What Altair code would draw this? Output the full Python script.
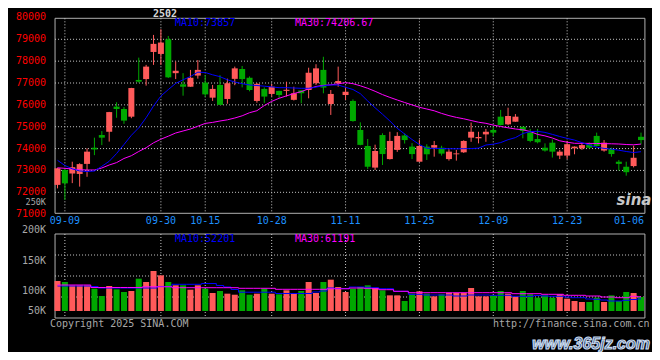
import altair as alt
import pandas as pd

# ---------------- data ----------------
opens = [72340, 73020, 72860, 72840, 73300, 74040, 74620, 74770, 75920, 75810,
         75460, 77140, 77180, 78420, 78330, 79000, 77450, 76940, 76830, 77340,
         77020, 76330, 76910, 76270, 77190, 77640, 77240, 76180, 76730, 76500,
         76640, 76640, 76230, 76660, 76680, 76990, 77600, 76040, 76990, 76450,
         76180, 74850, 74120, 73130, 74620, 73520, 73940, 74600, 74090, 73400,
         74090, 74040, 74040, 73520, 73740, 73830, 74500, 74470, 74650, 74850,
         75460, 75110, 75230, 75000, 74740, 74440, 74040, 74270, 73680, 73680,
         74010, 74010, 74200, 74580, 73910, 73980, 73400, 73170, 73200, 74540]
highs = [73120, 73060, 73400, 73330, 74010, 74500, 74800, 75680, 76120, 75900,
         76780, 78160, 77830, 79200, 79460, 79150, 77980, 77450, 77600, 78050,
         77360, 76910, 77360, 77200, 77750, 77780, 77300, 77000, 76800, 76950,
         76650, 77060, 76830, 76680, 77700, 77860, 78200, 76680, 77750, 76830,
         76250, 75200, 74440, 74180, 74700, 74770, 74750, 74700, 74250, 74410,
         74200, 74350, 74130, 73970, 73940, 74380, 75190, 74770, 74900, 75000,
         75770, 75870, 75580, 75000, 74900, 74900, 74240, 74420, 73940, 74350,
         74100, 74250, 74280, 74730, 74390, 74040, 73480, 73400, 74130, 74730]
lows = [72180, 71650, 72420, 72260, 72710, 73700, 74160, 74320, 75410, 75130,
        75390, 77020, 76880, 77830, 77830, 77230, 77180, 76420, 76830, 77200,
        76370, 76180, 75990, 76050, 76900, 76800, 76620, 76100, 76090, 76380,
        76300, 76380, 76200, 76070, 76300, 76910, 76530, 75540, 76830, 76220,
        75230, 74150, 73070, 73020, 73250, 73500, 73850, 74230, 73520, 73400,
        73480, 73630, 73680, 73450, 73450, 73800, 74310, 74240, 74310, 74560,
        75050, 75070, 75230, 74470, 74290, 74240, 73860, 73590, 73520, 73520,
        73740, 73940, 74000, 74090, 73860, 73630, 72990, 72760, 73140, 74190]
closes = [73100, 72410, 73150, 73290, 73860, 73960, 74500, 75670, 75810, 75280,
          76770, 77060, 77750, 78790, 78850, 77260, 77560, 76830, 77240, 77600,
          76480, 76730, 76000, 76990, 77670, 77180, 76680, 76960, 76380, 76830,
          76450, 76690, 76530, 76530, 77470, 77670, 76790, 76500, 77090, 76600,
          75260, 74170, 73170, 73890, 73750, 74350, 74580, 74390, 73750, 74120,
          73740, 74160, 73770, 73860, 73780, 74350, 74770, 74530, 74770, 74730,
          75080, 75490, 75460, 74800, 74350, 74290, 73910, 73860, 73860, 74200,
          74090, 74160, 74040, 74120, 74270, 73750, 73300, 72920, 73580, 74390]
ma10 = [73464, 73226, 73075, 72975, 72952, 72975, 73190, 73418, 73775, 74187,
        74608, 74951, 75413, 75948, 76406, 76699, 76982, 77147, 77298, 77495,
        77481, 77376, 77289, 77147, 77046, 76969, 76909, 76886, 76854, 76822,
        76786, 76786, 76772, 76758, 76758, 76813, 76873, 76909, 76909, 76804,
        76703, 76511, 76177, 75866, 75573, 75262, 74928, 74667, 74416, 74183,
        74013, 74010, 74000, 73995, 73990, 73995, 74000, 74020, 74164, 74201,
        74274, 74407, 74503, 74690, 74777, 74791, 74741, 74649, 74553, 74466,
        74388, 74274, 74160, 74064, 74009, 73977, 73926, 73867, 73821, 73857]
ma30 = [73121, 73098, 73066, 73034, 73020, 73020, 73112, 73249, 73359, 73547,
        73675, 73867, 74041, 74265, 74430, 74567, 74713, 74805, 74896, 75024,
        75152, 75198, 75262, 75317, 75399, 75500, 75642, 75733, 75971, 76159,
        76301, 76411, 76516, 76607, 76731, 76841, 76891, 76918, 76960, 77019,
        76969, 76873, 76758, 76621, 76470, 76342, 76223, 76109, 75999, 75889,
        75811, 75729, 75610, 75509, 75427, 75363, 75285, 75207, 75157, 75075,
        75011, 74951, 74896, 74860, 74782, 74649, 74581, 74484, 74356, 74292,
        74242, 74242, 74237, 74233, 74228, 74219, 74210, 74187, 74173, 74206.67]
volumes = [129000, 124700, 110000, 110000, 110000, 96000, 64500, 107500, 93000, 81700,
           86000, 139000, 124700, 172000, 153400, 124700, 110500, 110500, 91700, 110500,
           96000, 77400, 86000, 74500, 70000, 89000, 70000, 74500, 96000, 74500,
           71700, 89000, 74500, 86000, 124700, 77400, 124700, 134700, 103000, 81700,
           96000, 103000, 110500, 100000, 89000, 67300, 67300, 43000, 74500, 84600,
           74500, 63000, 71700, 77400, 77400, 77400, 99000, 63000, 63000, 67300,
           86000, 74500, 63000, 86000, 71700, 57300, 67300, 57300, 71700, 53000,
           43000, 38700, 38700, 57300, 38700, 67300, 43000, 81700, 77400, 60000]
vma10 = [107500, 107500, 107500, 107500, 107500, 105400, 98900, 98900, 98900, 98900,
         98900, 98900, 98900, 98900, 105400, 105400, 114800, 114800, 114800, 114800,
         118300, 118300, 109700, 103200, 92500, 80800, 80800, 80800, 80800, 80800,
         75300, 75300, 75300, 75300, 75300, 81700, 86000, 98900, 96800, 96800,
         103200, 103200, 101900, 100200, 95900, 95900, 84700, 84700, 71800, 71800,
         68800, 68800, 68800, 68800, 64500, 64500, 68800, 68800, 68800, 67500,
         67500, 67500, 63200, 63200, 63200, 66600, 64500, 63200, 63200, 60200,
         57200, 57200, 51600, 50300, 47300, 43000, 43000, 46000, 49500, 52201]
vma30 = [111800, 111800, 111800, 111800, 111800, 101100, 101100, 101100, 101100, 101100,
         101100, 101100, 104100, 104100, 104100, 104100, 100200, 100200, 100200, 100200,
         100200, 100200, 100200, 100200, 100200, 97600, 97600, 97600, 97600, 97600,
         93300, 93300, 93300, 93300, 93300, 93300, 93300, 95500, 95500, 95500,
         98900, 98900, 97600, 95900, 91600, 91600, 84700, 84700, 78700, 78700,
         78700, 78700, 78700, 78700, 78700, 78700, 78700, 78700, 78700, 78700,
         78700, 78700, 74400, 74400, 74400, 74400, 71800, 71800, 71800, 67500,
         67500, 67500, 64500, 64500, 60200, 60200, 57200, 57200, 63200, 61191]

tick_idx = [1, 14, 20, 29, 39, 49, 59, 69, 79]
tick_lab = ["09-09", "09-30", "10-15", "10-28", "11-11", "11-25", "12-09", "12-23", "01-06"]
price_ticks = [80000, 79000, 78000, 77000, 76000, 75000, 74000, 73000, 72000, 71000]
vol_labels = ["200K", "150K", "100K", "50K"]
extra_vol_label = ["250K"]
title_text = ["2502"]
ma_main = ["MA10:73857", "MA30:74206.67"]
ma_vol = ["MA10:52201", "MA30:61191"]

# ---------------- styling / layout ----------------
RED, GREEN = "#ff5a5a", "#00a800"
BLUE, MAG = "#0000ff", "#ff00ff"
GRID = "#c8c8c8"
FRAME = "#b0b0b0"
GRAY_TXT = "#a8a8a8"
FONT = "DejaVu Sans Mono"

X_LO, X_HI = -0.333, 79.53           # plot frame in index units
P_LO, P_HI = 71040, 79960            # price frame
V_LO, V_HI = -30100, 331100          # volume frame

XS = alt.Scale(domain=[0, 79], range=[44.5, 638.0], nice=False, zero=False)
PS = alt.Scale(domain=[P_LO, P_HI], range=[205.3, 10.3], nice=False, zero=False)
VS = alt.Scale(domain=[V_LO, V_HI], range=[310, 226], nice=False, zero=False)
CS = alt.Scale(domain=["up", "down"], range=[RED, GREEN])

df = pd.DataFrame({
    "i": list(range(len(opens))), "o": opens, "h": highs, "l": lows, "c": closes,
    "v": volumes, "ma10": ma10, "ma30": ma30, "vma10": vma10, "vma30": vma30,
})
df["dir"] = ["up" if c >= o else "down" for o, c in zip(opens, closes)]

ticks = pd.DataFrame({"i": tick_idx, "lab": tick_lab})
grid_ticks = ticks[ticks["i"] < 79]
pticks = pd.DataFrame({"p": price_ticks, "lab": [str(p) for p in price_ticks]})
pgrid = pticks[(pticks["p"] > P_LO) & (pticks["p"] < P_HI)]
span = V_HI - V_LO
vgrid = pd.DataFrame({"v": [V_LO + span * k / 4 for k in (1, 2, 3)]})
one = pd.DataFrame({"k": [0]})


def xq(field=None, datum=None):
    if datum is not None:
        return alt.X(datum=datum, type="quantitative", scale=XS, axis=None)
    return alt.X(field, type="quantitative", scale=XS, axis=None)


def yp(field=None, datum=None):
    if datum is not None:
        return alt.Y(datum=datum, type="quantitative", scale=PS, axis=None)
    return alt.Y(field, type="quantitative", scale=PS, axis=None)


def yv(field=None, datum=None):
    if datum is not None:
        return alt.Y(datum=datum, type="quantitative", scale=VS, axis=None)
    return alt.Y(field, type="quantitative", scale=VS, axis=None)


col = alt.Color("dir:N", scale=CS, legend=None)
layers = []

# frames
layers.append(alt.Chart(one).mark_rect(fillOpacity=0, stroke=FRAME, strokeWidth=1).encode(
    x=xq(datum=X_LO), x2=alt.datum(X_HI), y=yp(datum=P_HI), y2=alt.datum(P_LO)))
layers.append(alt.Chart(one).mark_rect(fillOpacity=0, stroke=FRAME, strokeWidth=1).encode(
    x=xq(datum=X_LO), x2=alt.datum(X_HI), y=yv(datum=V_HI), y2=alt.datum(V_LO)))

# grids
dash = [1, 2]
layers.append(alt.Chart(pgrid).mark_rule(color=GRID, strokeDash=dash, strokeWidth=1).encode(
    y=yp("p"), x=xq(datum=X_LO), x2=alt.datum(X_HI)))
layers.append(alt.Chart(grid_ticks).mark_rule(color=GRID, strokeDash=dash, strokeWidth=1).encode(
    x=xq("i"), y=yp(datum=P_HI), y2=alt.datum(P_LO)))
layers.append(alt.Chart(grid_ticks).mark_rule(color=GRID, strokeDash=dash, strokeWidth=1).encode(
    x=xq("i"), y=yv(datum=V_HI), y2=alt.datum(V_LO)))
layers.append(alt.Chart(vgrid).mark_rule(color=GRID, strokeDash=dash, strokeWidth=1).encode(
    y=yv("v"), x=xq(datum=X_LO), x2=alt.datum(X_HI)))

# volume
layers.append(alt.Chart(df).mark_bar(size=6).encode(x=xq("i"), y=yv("v"), y2=alt.datum(0), color=col))
layers.append(alt.Chart(df).mark_line(color=BLUE, strokeWidth=1, interpolate="step").encode(x=xq("i"), y=yv("vma10")))
layers.append(alt.Chart(df).mark_line(color=MAG, strokeWidth=1, interpolate="step").encode(x=xq("i"), y=yv("vma30")))

# candles
layers.append(alt.Chart(df).mark_rule(strokeWidth=1).encode(x=xq("i"), y=yp("l"), y2="h:Q", color=col))
layers.append(alt.Chart(df).mark_bar(size=6).encode(x=xq("i"), y=yp("o"), y2="c:Q", color=col))
layers.append(alt.Chart(df).mark_line(color=MAG, strokeWidth=1).encode(x=xq("i"), y=yp("ma30")))
layers.append(alt.Chart(df).mark_line(color=BLUE, strokeWidth=1).encode(x=xq("i"), y=yp("ma10")))

# price labels
layers.append(alt.Chart(pticks).mark_text(align="right", baseline="middle", font=FONT, fontSize=10,
                                          color="#ff0000").encode(
    y=yp("p"), x=alt.value(38), text="lab:N"))

# date labels
layers.append(alt.Chart(ticks[ticks["i"] < 79]).mark_text(align="center", baseline="middle", font=FONT,
                                                          fontSize=10, color="#1e90ff").encode(
    x=xq("i"), y=alt.value(213), text="lab:N"))
layers.append(alt.Chart(ticks[ticks["i"] == 79]).mark_text(align="right", baseline="middle", font=FONT,
                                                           fontSize=10, color="#1e90ff", dx=3).encode(
    x=xq("i"), y=alt.value(213), text="lab:N"))

# volume labels
vl = pd.DataFrame({"lab": vol_labels, "ypix": [222.3, 252.5, 282.8, 303]})
layers.append(alt.Chart(vl).mark_text(align="right", baseline="middle", font=FONT, fontSize=10,
                                      color=GRAY_TXT).encode(
    x=alt.value(38), y=alt.Y("ypix:Q", scale=None, axis=None), text="lab:N"))


# annotations
def label(txt, x, y, color, align="left", size=10, weight="normal", style="normal", font=FONT, **kw):
    return alt.Chart(pd.DataFrame({"t": [txt]})).mark_text(
        align=align, baseline="middle", font=font, fontSize=size, color=color,
        fontWeight=weight, fontStyle=style, **kw).encode(
        x=alt.value(x), y=alt.value(y), text="t:N")


layers.append(label(extra_vol_label[0], 38, 194.3, GRAY_TXT, align="right", size=8.5))
layers.append(label(title_text[0], 157, 6, "#d8d8d8", align="center", size=10, weight="bold"))
layers.append(label(ma_main[0], 167, 15.3, BLUE))
layers.append(label(ma_main[1], 287, 15.3, MAG))
layers.append(label(ma_vol[0], 167, 230.7, BLUE))
layers.append(label(ma_vol[1], 287, 230.7, MAG))
layers.append(label("Copyright 2025 SINA.COM", 42, 315.8, GRAY_TXT))
layers.append(label("http://finance.sina.com.cn", 641.5, 316, GRAY_TXT, align="right"))
layers.append(label("sina", 626, 192, "#c8c8c8", align="center", size=15, weight="bold", style="italic",
                    font="DejaVu Sans"))
layers.append(label("www.365jz.com", 642, 335.5, "#2f4f7f", align="right", size=16, weight="bold",
                    style="italic", font="Liberation Sans", stroke="#c8d8ec", strokeWidth=1.2))

chart = alt.layer(*layers).resolve_scale(y="independent").properties(
    width=644, height=344, padding=0,
    autosize=alt.AutoSizeParams(type="none"),
    background="black",
).configure_view(strokeWidth=0)

chart.save("out.html", embed_options={"renderer": "svg", "actions": False})
